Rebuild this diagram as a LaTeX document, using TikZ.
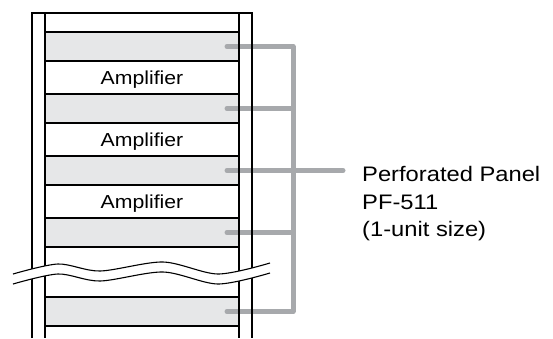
\documentclass[tikz,border=0pt]{standalone}
\usepackage{fontspec}
\setmainfont{Liberation Sans}[FakeStretch=1.13]
\usetikzlibrary{positioning}
\definecolor{panelgrey}{HTML}{E6E7E8}
\definecolor{linkgrey}{HTML}{A7A9AC}
\tikzset{
  slot/.style = {rectangle, draw, line width=1.3pt, outer sep=0pt, inner sep=0pt, minimum width=194pt},
  panel/.style = {slot, fill=panelgrey, minimum height=29pt},
  amp/.style = {slot, minimum height=33pt, text depth=0pt, font=\fontsize{18.8}{22}\selectfont},
  link/.style = {draw=linkgrey, line width=5pt, line cap=round, line join=round},
  rack/.style = {line width=1.3pt},
  note/.style = {align=left, inner sep=0pt, font=\fontsize{21}{27.5}\selectfont},
}

\begin{document}
\begin{tikzpicture}[x=1pt, y=-1pt]
    \useasboundingbox (0,0) rectangle (553,338);

    % Slots
    \node (p1) [panel] at (142,46.5) {};
    \node (a1) [amp, below=0pt of p1] {Amplifier};
    \node (p2) [panel, below=0pt of a1] {};
    \node (a2) [amp, below=0pt of p2] {Amplifier};
    \node (p3) [panel, below=0pt of a2] {};
    \node (a3) [amp, below=0pt of p3] {Amplifier};
    \node (p4) [panel, below=0pt of a3] {};
    \node (p5) [panel, below=50pt of p4] {};

    % Connectors
    \coordinate (bus) at (293,0);
    \coordinate (tip) at (343,170.5);
    \draw [link] ([xshift=-12pt]p1.east) -- (p1.east -| bus) -- (p5.east -| bus) -- ([xshift=-12pt]p5.east);
    \draw [link] ([xshift=-12pt]p2.east) -- (p2.east -| bus);
    \draw [link] ([xshift=-12pt]p3.east) -- (tip);
    \draw [link] ([xshift=-12pt]p4.east) -- (p4.east -| bus);

    % Rack
    \draw [rack] (32,338) -- (32,13) -- (252,13) -- (252,338);
    \draw [rack] (45,13) -- (45,338);
    \draw [rack] (239,13) -- (239,338);

    % Break
    \fill [white] plot [smooth] coordinates {(13,274) (58,264) (100,271) (163,262) (218,274) (270,263)}
        -- plot [smooth] coordinates {(270,273) (218,284) (163,272) (100,281) (58,274) (13,284)} -- cycle;
    \draw [line width=1.1pt] plot [smooth] coordinates {(13,274) (58,264) (100,271) (163,262) (218,274) (270,263)};
    \draw [line width=1.1pt] plot [smooth] coordinates {(13,284) (58,274) (100,281) (163,272) (218,284) (270,273)};

    % Label
    \node (lbl) [note, anchor=north west] at ([xshift=19pt, yshift=4pt]tip) {Perforated Panel\\PF-511\\(1-unit size)};

\end{tikzpicture}
\end{document}
